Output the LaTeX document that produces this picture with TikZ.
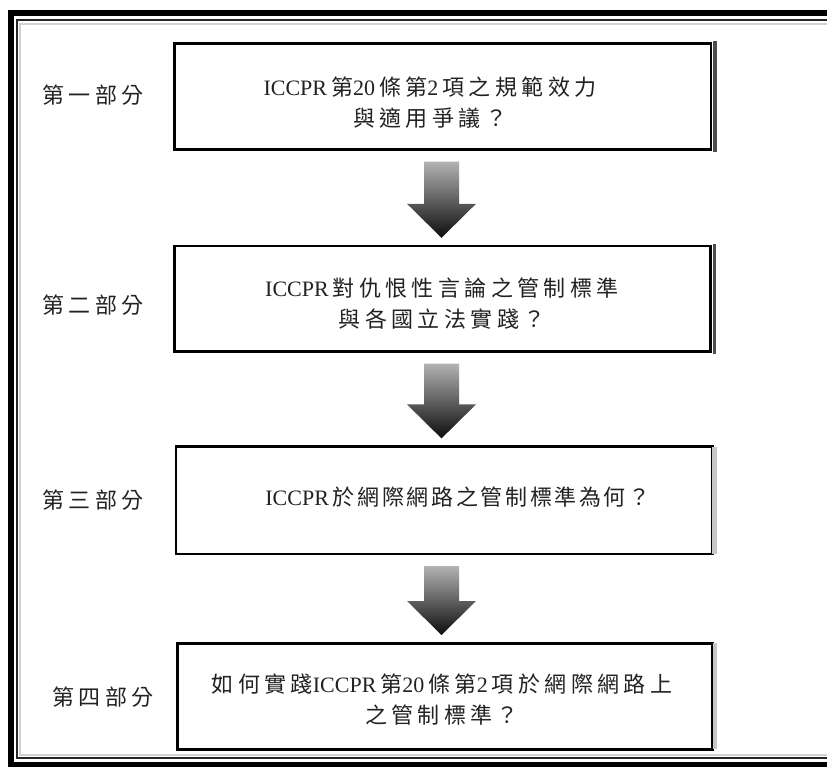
\documentclass[tikz,border=0pt]{standalone}
\usepackage{fontspec}
\newfontfamily\cjk[LetterSpace=20]{Noto Sans CJK TC}
\newfontfamily\cjklabel[LetterSpace=20]{Noto Sans CJK TC}
\newfontfamily\latn{Liberation Serif}
\newcommand{\lt}[1]{{\latn #1}\hspace{4pt}}
\usetikzlibrary{calc}
\definecolor{txt}{HTML}{222222}
\begin{document}
\begin{tikzpicture}[x=1pt,y=-1pt,
  stagebox/.style={draw=black, line width=2.5pt, fill=white, inner sep=0pt, minimum width=#1},
  boxtext/.style={font=\cjk\fontsize{22}{31}\selectfont, text=txt, align=center, inner sep=0pt},
  parttext/.style={font=\cjklabel\fontsize{22}{26}\selectfont, text=txt, inner sep=0pt},
  darkside/.style={draw=black!70, line width=3.5pt},
  lightside/.style={draw=black!22, line width=4.5pt},
  flowarrow/.style={top color=black!30, bottom color=black!95, draw=none}
]
\useasboundingbox[fill=white] (0,0) rectangle (827,767);
% outer frame
\draw[line width=6pt, black] (10.5,13.5) rectangle (850,764.5);
\draw[line width=1.5pt, black!85] (17,20) rectangle (850,758);
\draw[line width=2pt, black!18] (20,24) rectangle (850,755);

% boxes
\node[stagebox=536.5pt, minimum height=106pt] (b1) at (442.75,96.5) {};
\node[stagebox=536pt, minimum height=105.3pt] (b2) at (442.5,298.7) {};
\node[stagebox=536.5pt, minimum height=107.3pt] (b3) at (444.2,500.3) {};
\node[stagebox=535.2pt, minimum height=106pt] (b4) at (444.9,696.25) {};

\draw[darkside] ([xshift=2.5pt,yshift=1.25pt]b1.north east) -- ([xshift=2.5pt,yshift=-1.25pt]b1.south east);
\draw[darkside] ([xshift=2.5pt,yshift=1.25pt]b2.north east) -- ([xshift=2.5pt,yshift=-1.25pt]b2.south east);
\draw[lightside] ([xshift=1pt,yshift=-1.25pt]b3.north east) -- ([xshift=1pt,yshift=1.25pt]b3.south east);
\draw[lightside] ([xshift=1pt,yshift=-1.25pt]b4.north east) -- ([xshift=1pt,yshift=1.25pt]b4.south east);

% box texts
\node[boxtext] (t1) at (430,102.5) {\lt{ICCPR}第\lt{20}條第\lt{2}項之規範效力\\與適用爭議？};
\node[boxtext] (t2) at (442,303.5) {\lt{ICCPR}對仇恨性言論之管制標準\\與各國立法實踐？};
\node[boxtext] (t3) at (458,497) {\addfontfeatures{LetterSpace=12}\lt{ICCPR}於網際網路之管制標準為何？};
\node[boxtext] (t4) at (442,700) {如何實踐\lt{ICCPR}第\lt{20}條第\lt{2}項於網際網路上\\之管制標準？};

% part labels
\node[parttext] (l1) at (93,95) {第一部分};
\node[parttext] (l2) at (93,305) {第二部分};
\node[parttext] (l3) at (93,500) {第三部分};
\node[parttext] (l4) at (103,697) {第四部分};

% block arrows between boxes
\foreach \a/\b in {b1/b2, b2/b3, b3/b4}{
  \shade[flowarrow] let \p1=(\a.south), \p2=(\b.north) in
    (424pt,\y1-11pt) -- (459pt,\y1-11pt) -- (459pt,\y2+41pt) -- (476pt,\y2+41pt)
    -- (441.5pt,\y2+7pt) -- (407pt,\y2+41pt) -- (424pt,\y2+41pt) -- cycle;
}
\end{tikzpicture}
\end{document}
